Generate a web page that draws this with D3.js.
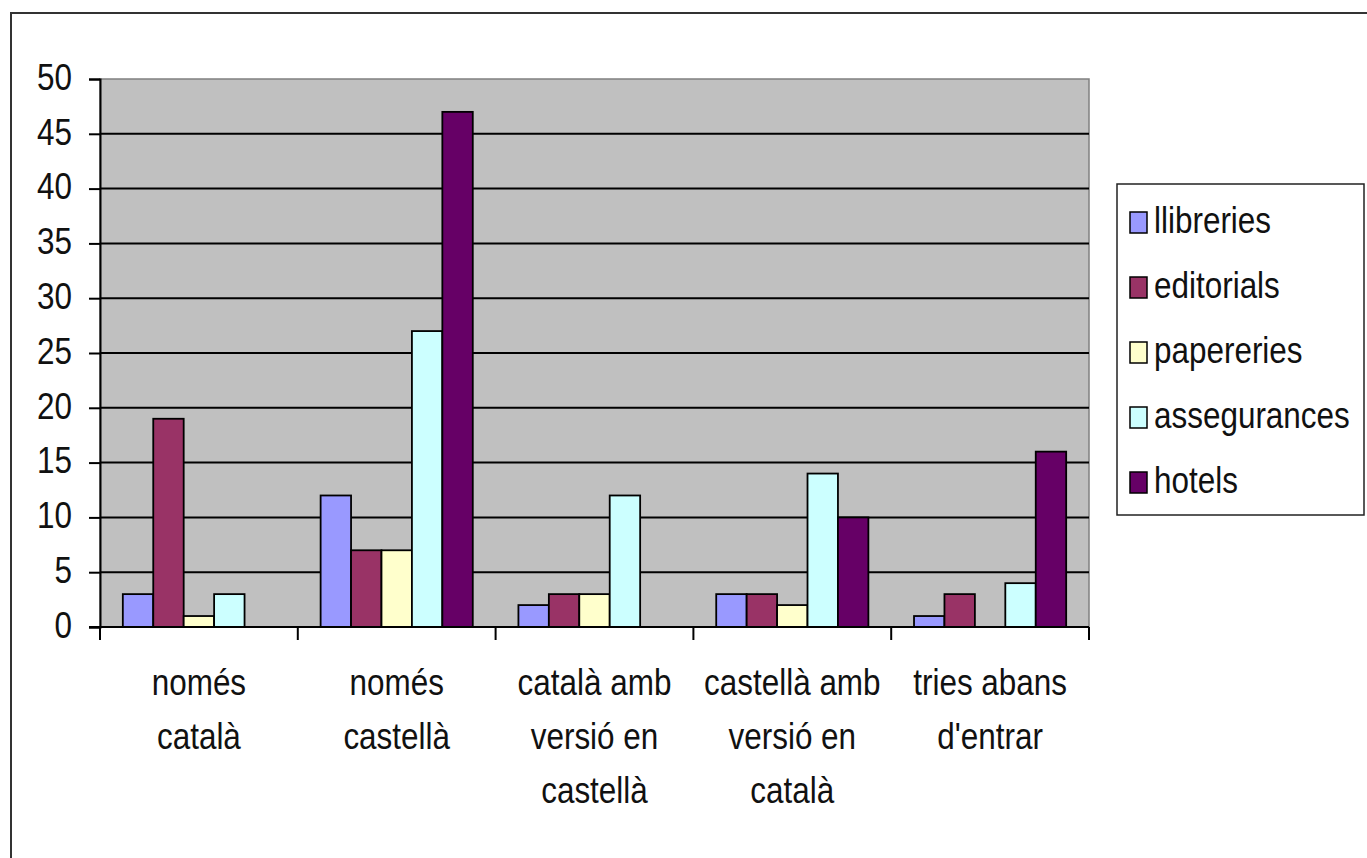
<!DOCTYPE html>
<html>
<head>
<meta charset="utf-8">
<script src="https://cdn.jsdelivr.net/npm/d3@7"></script>
<style>
  html, body { margin: 0; padding: 0; background: #ffffff; }
  svg { display: block; }
  text { font-family: "Liberation Sans", Arial, sans-serif; fill: #111; }
</style>
</head>
<body>
<svg id="chart" width="1367" height="858"></svg>
<script>
// ---- data ----
const categories = ["només català", "només castellà", "català amb versió en castellà", "castellà amb versió en català", "tries abans d'entrar"];
const categoryLines = [["només", "català"], ["només", "castellà"], ["català amb", "versió en", "castellà"], ["castellà amb", "versió en", "català"], ["tries abans", "d'entrar"]];
const seriesNames = ["llibreries", "editorials", "papereries", "assegurances", "hotels"];
const llibreries   = [3, 12, 2, 3, 1];
const editorials   = [19, 7, 3, 3, 3];
const papereries   = [1, 7, 3, 2, 0];
const assegurances = [3, 27, 12, 14, 4];
const hotels       = [0, 47, 0, 10, 16];
const seriesColors = ["#9999FF", "#993366", "#FFFFCC", "#CCFFFF", "#660066"];
const yTicks = [0, 5, 10, 15, 20, 25, 30, 35, 40, 45, 50];

const seriesValues = [llibreries, editorials, papereries, assegurances, hotels];

// ---- layout ----
const svg = d3.select("#chart");
const plot = { left: 100, right: 1089, top: 79, bottom: 627 };
const FS = 37, SX = 0.85;

// outer border
svg.append("rect").attr("x", 11).attr("y", 13).attr("width", 1420).attr("height", 900)
  .attr("fill", "none").attr("stroke", "#333").attr("stroke-width", 2);

const x = d3.scaleBand().domain(categories).range([plot.left, plot.right]).paddingInner(0).paddingOuter(0);
const bw = x.bandwidth();
const xs = d3.scaleBand().domain(seriesNames).range([bw * 0.75 / 6.5, bw * 5.75 / 6.5]).padding(0);
const y = d3.scaleLinear().domain([0, 50]).range([plot.bottom, plot.top]);

// plot background
svg.append("rect").attr("x", plot.left).attr("y", plot.top)
  .attr("width", plot.right - plot.left).attr("height", plot.bottom - plot.top)
  .attr("fill", "#C0C0C0").attr("stroke", "#808080").attr("stroke-width", 1.5);

// gridlines
svg.append("g").selectAll("line").data(yTicks.filter(d => d > 0 && d < 50)).join("line")
  .attr("x1", plot.left).attr("x2", plot.right)
  .attr("y1", d => y(d)).attr("y2", d => y(d))
  .attr("stroke", "#000").attr("stroke-width", 2);

// bars
const groups = svg.append("g").selectAll("g").data(categories).join("g")
  .attr("transform", d => `translate(${x(d)},0)`);
groups.selectAll("rect")
  .data((c, ci) => seriesNames.map((s, si) => ({ s, si, v: seriesValues[si][ci] })).filter(d => d.v > 0))
  .join("rect")
  .attr("x", d => xs(d.s))
  .attr("width", xs.bandwidth())
  .attr("y", d => y(d.v))
  .attr("height", d => y(0) - y(d.v))
  .attr("fill", d => seriesColors[d.si])
  .attr("stroke", "#000").attr("stroke-width", 1.8);

// y axis
const yAxis = svg.append("g").attr("transform", `translate(${plot.left},0)`)
  .call(d3.axisLeft(y).tickValues(yTicks).tickSize(11).tickPadding(0));
yAxis.select(".domain").attr("stroke", "#000").attr("stroke-width", 2);
yAxis.selectAll(".tick line").attr("stroke", "#000").attr("stroke-width", 2);
yAxis.selectAll(".tick text")
  .attr("font-size", FS).attr("font-family", "Liberation Sans, Arial, sans-serif")
  .attr("fill", "#111")
  .attr("x", -28 / SX).attr("dy", "0.28em")
  .attr("transform", `scale(${SX},1)`);

// x axis line and boundary ticks
svg.append("line").attr("x1", plot.left - 11).attr("x2", plot.right)
  .attr("y1", y(0)).attr("y2", y(0)).attr("stroke", "#000").attr("stroke-width", 2);
const bounds = categories.map(c => x(c)).concat([x(categories[categories.length - 1]) + bw]);
svg.append("g").selectAll("line").data(bounds).join("line")
  .attr("x1", d => d).attr("x2", d => d)
  .attr("y1", y(0)).attr("y2", y(0) + 13)
  .attr("stroke", "#000").attr("stroke-width", 2);

// category labels
categories.forEach((c, ci) => {
  const cx = x(c) + bw / 2;
  categoryLines[ci].forEach((line, li) => {
    svg.append("text")
      .attr("transform", `translate(${cx},${695 + li * 54}) scale(${SX},1)`)
      .attr("text-anchor", "middle")
      .attr("font-size", FS)
      .text(line);
  });
});

// legend
const lg = svg.append("g");
lg.append("rect").attr("x", 1117).attr("y", 184).attr("width", 247).attr("height", 331)
  .attr("fill", "#fff").attr("stroke", "#222").attr("stroke-width", 1.5);
seriesNames.forEach((s, i) => {
  const base = 233 + i * 65;
  lg.append("rect").attr("x", 1130).attr("y", base - 21).attr("width", 17).attr("height", 21)
    .attr("fill", seriesColors[i]).attr("stroke", "#000").attr("stroke-width", 1.5);
  lg.append("text")
    .attr("transform", `translate(1154,${base}) scale(${SX},1)`)
    .attr("font-size", FS)
    .text(s);
});
</script>
</body>
</html>
